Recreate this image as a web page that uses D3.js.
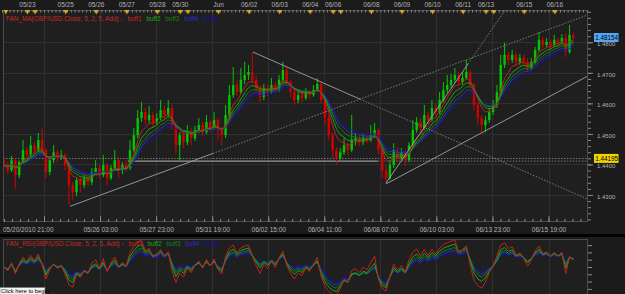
<!DOCTYPE html>
<html><head><meta charset="utf-8">
<script src="https://cdn.jsdelivr.net/npm/d3@7/dist/d3.min.js"></script>
<style>
html,body{margin:0;padding:0;background:#1b1b1b;overflow:hidden;}
svg{display:block;}
text{font-family:"Liberation Sans",Arial,sans-serif;}
</style></head><body>
<svg id="chart" width="625" height="294"></svg>
<script>
// ---------------- data ----------------
const closes = [
1.4398,1.4381,1.4414,1.4365,1.4408,1.4447,1.4431,1.4463,1.4447,1.4480,
1.4447,1.4375,1.4414,1.4440,1.4421,1.4431,1.4398,1.4332,1.4309,1.4349,
1.4332,1.4355,1.4342,1.4375,1.4388,1.4365,1.4398,1.4355,1.4388,1.4414,
1.4381,1.4398,1.4388,1.4447,1.4496,1.4552,1.4572,1.4545,1.4562,1.4539,
1.4552,1.4578,1.4562,1.4585,1.4529,1.4463,1.4496,1.4473,1.4506,1.4486,
1.4513,1.4529,1.4506,1.4539,1.4519,1.4545,1.4513,1.4496,1.4562,1.4627,
1.4660,1.4637,1.4677,1.4693,1.4703,1.4677,1.4650,1.4621,1.4650,1.4637,
1.4660,1.4644,1.4677,1.4709,1.4670,1.4637,1.4611,1.4627,1.4618,1.4637,
1.4627,1.4644,1.4663,1.4611,1.4552,1.4496,1.4447,1.4421,1.4440,1.4463,
1.4447,1.4480,1.4486,1.4473,1.4486,1.4480,1.4496,1.4513,1.4447,1.4381,
1.4355,1.4398,1.4447,1.4421,1.4440,1.4414,1.4463,1.4513,1.4539,1.4519,
1.4562,1.4545,1.4585,1.4572,1.4611,1.4644,1.4660,1.4677,1.4693,1.4670,
1.4683,1.4703,1.4660,1.4595,1.4552,1.4529,1.4545,1.4572,1.4595,1.4637,
1.4726,1.4759,1.4742,1.4759,1.4736,1.4749,1.4736,1.4716,1.4736,1.4775,
1.4808,1.4791,1.4801,1.4791,1.4808,1.4801,1.4814,1.4768,1.4824,1.48154];
const opens = [
1.4414,1.4398,1.4381,1.4414,1.4365,1.4408,1.4447,1.4431,1.4463,1.4447,
1.4480,1.4447,1.4375,1.4414,1.4440,1.4421,1.4431,1.4398,1.4332,1.4309,
1.4349,1.4332,1.4355,1.4342,1.4375,1.4388,1.4365,1.4398,1.4355,1.4388,
1.4414,1.4381,1.4398,1.4388,1.4447,1.4496,1.4552,1.4572,1.4545,1.4562,
1.4539,1.4552,1.4578,1.4562,1.4585,1.4529,1.4463,1.4496,1.4473,1.4506,
1.4486,1.4513,1.4529,1.4506,1.4539,1.4519,1.4545,1.4513,1.4496,1.4562,
1.4627,1.4660,1.4637,1.4677,1.4693,1.4703,1.4677,1.4650,1.4621,1.4650,
1.4637,1.4660,1.4644,1.4677,1.4709,1.4670,1.4637,1.4611,1.4627,1.4618,
1.4637,1.4627,1.4644,1.4663,1.4611,1.4552,1.4496,1.4447,1.4421,1.4440,
1.4463,1.4447,1.4480,1.4486,1.4473,1.4486,1.4480,1.4496,1.4513,1.4447,
1.4381,1.4355,1.4398,1.4447,1.4421,1.4440,1.4414,1.4463,1.4513,1.4539,
1.4519,1.4562,1.4545,1.4585,1.4572,1.4611,1.4644,1.4660,1.4677,1.4693,
1.4670,1.4683,1.4703,1.4660,1.4595,1.4552,1.4529,1.4545,1.4572,1.4595,
1.4637,1.4726,1.4759,1.4742,1.4759,1.4736,1.4749,1.4736,1.4716,1.4736,
1.4775,1.4808,1.4791,1.4801,1.4791,1.4808,1.4801,1.4814,1.4768,1.4824];
const highs = [
1.4427,1.4408,1.4427,1.4421,1.4414,1.4480,1.4457,1.4493,1.4473,1.4503,
1.4519,1.4454,1.4424,1.4463,1.4447,1.4447,1.4437,1.4408,1.4342,1.4355,
1.4358,1.4365,1.4368,1.4388,1.4414,1.4398,1.4431,1.4404,1.4398,1.4447,
1.4424,1.4408,1.4414,1.4480,1.4519,1.4578,1.4604,1.4585,1.4591,1.4572,
1.4568,1.4611,1.4591,1.4611,1.4595,1.4539,1.4506,1.4513,1.4529,1.4519,
1.4526,1.4552,1.4539,1.4562,1.4549,1.4572,1.4552,1.4522,1.4595,1.4660,
1.4719,1.4677,1.4716,1.4736,1.4726,1.4768,1.4690,1.4660,1.4663,1.4660,
1.4683,1.4670,1.4693,1.4736,1.4723,1.4677,1.4650,1.4644,1.4637,1.4650,
1.4644,1.4660,1.4683,1.4670,1.4618,1.4562,1.4506,1.4457,1.4454,1.4486,
1.4473,1.4562,1.4503,1.4496,1.4499,1.4496,1.4529,1.4536,1.4519,1.4454,
1.4398,1.4414,1.4470,1.4457,1.4454,1.4447,1.4473,1.4545,1.4555,1.4552,
1.4595,1.4572,1.4611,1.4598,1.4637,1.4670,1.4693,1.4696,1.4716,1.4703,
1.4703,1.4742,1.4709,1.4667,1.4604,1.4562,1.4559,1.4585,1.4611,1.4660,
1.4759,1.4798,1.4768,1.4775,1.4768,1.4762,1.4759,1.4749,1.4749,1.4785,
1.4834,1.4818,1.4814,1.4808,1.4824,1.4814,1.4827,1.4831,1.4857,1.4831];
const lows = [
1.4388,1.4368,1.4375,1.4322,1.4355,1.4401,1.4421,1.4424,1.4437,1.4440,
1.4440,1.4355,1.4365,1.4404,1.4408,1.4414,1.4381,1.4267,1.4283,1.4296,
1.4309,1.4322,1.4329,1.4332,1.4365,1.4355,1.4358,1.4332,1.4349,1.4381,
1.4355,1.4368,1.4375,1.4381,1.4440,1.4486,1.4539,1.4532,1.4536,1.4519,
1.4529,1.4545,1.4552,1.4555,1.4513,1.4437,1.4414,1.4454,1.4463,1.4463,
1.4477,1.4503,1.4493,1.4499,1.4506,1.4513,1.4480,1.4463,1.4486,1.4552,
1.4618,1.4624,1.4631,1.4663,1.4677,1.4663,1.4637,1.4604,1.4611,1.4624,
1.4631,1.4634,1.4637,1.4670,1.4660,1.4618,1.4595,1.4601,1.4604,1.4611,
1.4614,1.4621,1.4637,1.4601,1.4529,1.4480,1.4421,1.4398,1.4414,1.4431,
1.4427,1.4440,1.4463,1.4460,1.4463,1.4470,1.4473,1.4486,1.4434,1.4355,
1.4339,1.4349,1.4388,1.4408,1.4414,1.4395,1.4408,1.4454,1.4503,1.4506,
1.4513,1.4532,1.4539,1.4559,1.4565,1.4604,1.4634,1.4650,1.4667,1.4657,
1.4660,1.4677,1.4650,1.4578,1.4529,1.4506,1.4506,1.4536,1.4562,1.4585,
1.4627,1.4716,1.4726,1.4732,1.4723,1.4726,1.4723,1.4703,1.4709,1.4729,
1.4768,1.4782,1.4785,1.4775,1.4785,1.4788,1.4795,1.4752,1.4762,1.4808];

const barHours = 3;                       // each bar = 3 trading hours, first bar 05/20 21:00
const maPeriods = [5, 7, 9, 11, 13];      // FAN_MA / FAN_RSI: 5, step 2, 5 buffers
const bufNames = ["buff1","buff2","buff3","buff4","buff5"];
const bufColors = ["#c81e1e","#1aa81a","#0f820f","#2a2ad0","#16169c"];
const priceTicks = [1.43, 1.44, 1.45, 1.46, 1.47, 1.48];
const rsiTicks = [20, 30, 40, 50, 60, 70, 80];
const dayMarkHours  = [3,20,26,50,74,98,122,140,146,170,194,218,242,260,266,290,314,338,362,380,386,410,434];
const dayMarkLabels = ["","05/23","","05/25","05/26","05/27","05/28","05/30","","Jun","06/02","06/03","06/04","06/06","","06/08","06/09","06/10","06/11","06/13","","06/15","06/16"];
const timeTickHours  = [33,77,121,165,209,253,297,341,385,429];
const timeTickLabels = ["","05/26 03:00","05/27 23:00","05/31 19:00","06/02 15:00","06/04 11:00","06/08 07:00","06/10 03:00","06/13 23:00","06/15 19:00"];
const startLabel = "05/20/2010 21:00";
const lastPrice = 1.48154;
const levelPrice = 1.44195;
// trend lines: anchors in (trading hour, price); ext = dotted extension to the right edge
const trendLines = [
  {h1:53.4, p1:1.4263, h2:165.6, p2:1.4436, ext:true},
  {h1:197,  p1:1.4768, h2:281,   p2:1.4614, ext:true},
  {h1:301.4,p1:1.4339, h2:365.8, p2:1.4729, ext:true},
  {h1:301.4,p1:1.4336, h2:460,   p2:1.4690, ext:false}
];
const hLevel = {price:1.4411, h1:99, h2:295};

// ---------------- layout ----------------
const PL = 3, PR = 588, PT = 10, PB = 222;   // main panel
const RT = 239, RB = 300;                    // oscillator panel
const svg = d3.select("#chart");
const x  = d3.scaleLinear().domain([0, 460]).range([2, 588]);
const y  = d3.scaleLinear().domain([1.43, 1.48]).range([195, 42.3]);
const yr = d3.scaleLinear().domain([0, 100]).range([303.5, 230.5]);
const FONT = 6;
const TXT = "#b2b2b2";

svg.append("rect").attr("width",625).attr("height",294).attr("fill","#1b1b1b");
svg.append("rect").attr("x",PL).attr("y",PT).attr("width",PR-PL).attr("height",PB-PT).attr("fill","#1f1f1f");
svg.append("rect").attr("x",PL).attr("y",RT).attr("width",PR-PL).attr("height",RB-RT).attr("fill","#1f1f1f");
svg.append("rect").attr("x",0).attr("y",234).attr("width",625).attr("height",3).attr("fill","#000");

const defs = svg.append("defs");
defs.append("clipPath").attr("id","cm").append("rect").attr("x",PL).attr("y",PT).attr("width",PR-PL).attr("height",PB-PT);
defs.append("clipPath").attr("id","cr").append("rect").attr("x",PL).attr("y",RT).attr("width",PR-PL).attr("height",RB-RT);

// grid
const grid = svg.append("g").attr("stroke","#2f2f2f").attr("stroke-width",1);
timeTickHours.forEach(h => {
  const gx = Math.round(x(h)) + 0.5;
  grid.append("line").attr("x1",gx).attr("x2",gx).attr("y1",PT).attr("y2",PB);
  grid.append("line").attr("x1",gx).attr("x2",gx).attr("y1",RT).attr("y2",RB);
});
priceTicks.forEach(p => {
  const gy = Math.round(y(p)) + 0.5;
  grid.append("line").attr("x1",PL).attr("x2",PR).attr("y1",gy).attr("y2",gy);
});

const main = svg.append("g").attr("clip-path","url(#cm)");

// level lines
main.append("line").attr("x1",PL).attr("x2",PR).attr("y1",y(levelPrice)).attr("y2",y(levelPrice))
  .attr("stroke","#8a8a8a").attr("stroke-width",0.8).attr("stroke-dasharray","1.5,1.5");
main.append("line").attr("x1",x(hLevel.h1)).attr("x2",x(hLevel.h2)).attr("y1",y(hLevel.price)).attr("y2",y(hLevel.price))
  .attr("stroke","#9a9a9a").attr("stroke-width",1.4);
main.append("line").attr("x1",x(hLevel.h2)).attr("x2",PR).attr("y1",y(hLevel.price)).attr("y2",y(hLevel.price))
  .attr("stroke","#8a8a8a").attr("stroke-width",0.8).attr("stroke-dasharray","1.5,1.5");

// candles
const bars = closes.map((c,i) => ({h: i*barHours + barHours/2, o: opens[i], hi: highs[i], lo: lows[i], c}));
const bw = 2.4;
const cg = main.append("g");
bars.forEach(b => {
  const col = b.c >= b.o ? "#00c800" : "#d40000";
  const cx = x(b.h);
  cg.append("line").attr("x1",cx).attr("x2",cx).attr("y1",y(b.hi)).attr("y2",y(b.lo)).attr("stroke",col).attr("stroke-width",1);
  const top = Math.min(y(b.o), y(b.c)), hgt = Math.max(1, Math.abs(y(b.o) - y(b.c)));
  cg.append("rect").attr("x",cx - bw/2).attr("y",top).attr("width",bw).attr("height",hgt).attr("fill",col);
});

// moving averages
function ema(vals, n){ const a = 2/(n+1); let e = vals[0]; return vals.map((v,i) => (e = i ? a*v + (1-a)*e : v)); }
const lineMA = d3.line().x((d,i) => x(bars[i].h)).y(d => y(d)).curve(d3.curveMonotoneX);
for (let k = maPeriods.length-1; k >= 0; k--) {
  main.append("path").attr("d", lineMA(ema(closes, maPeriods[k]))).attr("fill","none")
    .attr("stroke", bufColors[k]).attr("stroke-width",1);
}

// trend lines
trendLines.forEach(t => {
  const slope = (t.p2 - t.p1)/(t.h2 - t.h1);
  main.append("line").attr("x1",x(t.h1)).attr("y1",y(t.p1)).attr("x2",x(t.h2)).attr("y2",y(t.p2))
    .attr("stroke","#a0a0a0").attr("stroke-width",0.9);
  if (t.ext) {
    const he = 470, pe = t.p2 + slope*(he - t.h2);
    main.append("line").attr("x1",x(t.h2)).attr("y1",y(t.p2)).attr("x2",x(he)).attr("y2",y(pe))
      .attr("stroke","#909090").attr("stroke-width",0.8).attr("stroke-dasharray","1.5,1.5");
  }
});

// RSI panel
function rsi(vals, n){
  const s = d3.mean(d3.range(1, n+1), i => Math.abs(vals[i]-vals[i-1]))/2;
  let g = s, l = s;
  return vals.map((v,i) => {
    if (i) { const d = v - vals[i-1]; g = (g*(n-1) + Math.max(d,0))/n; l = (l*(n-1) + Math.max(-d,0))/n; }
    return 100 - 100/(1 + g/l);
  });
}
const rg = svg.append("g").attr("clip-path","url(#cr)");
const lineR = d3.line().x((d,i) => x(bars[i].h)).y(d => yr(d));
for (let k = maPeriods.length-1; k >= 0; k--) {
  rg.append("path").attr("d", lineR(rsi(closes, maPeriods[k]))).attr("fill","none")
    .attr("stroke", bufColors[k]).attr("stroke-width",1);
}

// frames
svg.append("rect").attr("x",PL+0.5).attr("y",PT+0.5).attr("width",PR-PL-1).attr("height",PB-PT-1)
  .attr("fill","none").attr("stroke","#4c4c4c");
svg.append("rect").attr("x",PL+0.5).attr("y",RT+0.5).attr("width",PR-PL-1).attr("height",RB-RT)
  .attr("fill","none").attr("stroke","#4c4c4c");

// right price axis
function styleAxis(g){ g.select(".domain").remove(); g.selectAll("line").attr("stroke","#8a8a8a");
  g.selectAll("text").attr("fill",TXT).style("font-size",FONT+"px").style("font-family","Liberation Sans, Arial, sans-serif"); }
svg.append("g").attr("transform",`translate(${PR},0)`)
  .call(d3.axisRight(y).tickValues(d3.range(1.422, 1.4901, 0.002)).tickSize(3).tickFormat(""))
  .call(styleAxis);
svg.append("g").attr("transform",`translate(${PR},0)`)
  .call(d3.axisRight(y).tickValues(priceTicks).tickSize(5).tickPadding(4).tickFormat(d3.format(".4f")))
  .call(styleAxis).call(g => g.selectAll("text").attr("dy","0.55em"));

// RSI right axis
svg.append("g").attr("transform",`translate(${PR},0)`)
  .call(d3.axisRight(yr).tickValues(rsiTicks).tickSize(4).tickFormat(""))
  .call(styleAxis);

// bottom time axis (ticks pointing up)
svg.append("g").attr("transform",`translate(0,${PB})`)
  .call(d3.axisBottom(x).tickValues(d3.range(33 - 44/7*5, 460, 44/7)).tickSize(-3).tickFormat(""))
  .call(styleAxis);
svg.append("g").attr("transform",`translate(0,${PB})`)
  .call(d3.axisBottom(x).tickValues(timeTickHours).tickSize(-6).tickPadding(5).tickFormat((d,i) => timeTickLabels[i]))
  .call(styleAxis).call(g => g.selectAll("text").style("font-size","6.5px"));
svg.append("text").attr("x",3).attr("y",232).attr("fill",TXT).style("font-size","6.5px").text(startLabel);

// top day strip
svg.append("g").attr("transform",`translate(0,${PT})`)
  .call(d3.axisBottom(x).tickValues(d3.range(0, 460, barHours)).tickSize(2.5).tickFormat(""))
  .call(styleAxis);
const tg = svg.append("g");
dayMarkHours.forEach((h,i) => {
  const mx = x(h);
  tg.append("path").attr("d",`M${mx-2.3},${PT}L${mx+2.3},${PT}L${mx},${PT+4.5}Z`).attr("fill","#dca81c");
  if (dayMarkLabels[i]) tg.append("text").attr("x",mx).attr("y",7.2).attr("text-anchor","middle")
    .attr("fill",TXT).style("font-size","6.5px").text(dayMarkLabels[i]);
});

// price flags
function flag(p, fill){
  const fy = y(p);
  svg.append("rect").attr("x",594).attr("y",fy-4.6).attr("width",24.5).attr("height",9).attr("fill",fill);
  svg.append("text").attr("x",595.3).attr("y",fy+2.3).attr("fill","#000").style("font-size","6.3px").text(d3.format(".5f")(p));
}
flag(lastPrice, "#52a6f4");
flag(levelPrice, "#f2d200");

// legends
function legend(prefix, ly){
  const t = svg.append("text").attr("x",6).attr("y",ly).style("font-size","6.4px");
  t.append("tspan").attr("fill","#c82828").text(prefix);
  bufNames.forEach((n,k) => t.append("tspan").attr("dx", k ? 4.8 : 5).attr("fill", bufColors[k]).text(n));
}
legend("FAN_MA(GBP/USD.Close, 5, 2, 5, Add) -", 21);
legend("FAN_RSI(GBP/USD.Close, 5, 2, 5, Add) -", 245.5);

// tooltip box
svg.append("rect").attr("x",0).attr("y",287.5).attr("width",45).attr("height",7).attr("fill","#f4f4f4").attr("stroke","#777").attr("stroke-width",0.5);
svg.append("text").attr("x",1).attr("y",293.3).attr("fill","#000").style("font-size","5.8px").text("Click here to begin");
</script>
</body></html>
